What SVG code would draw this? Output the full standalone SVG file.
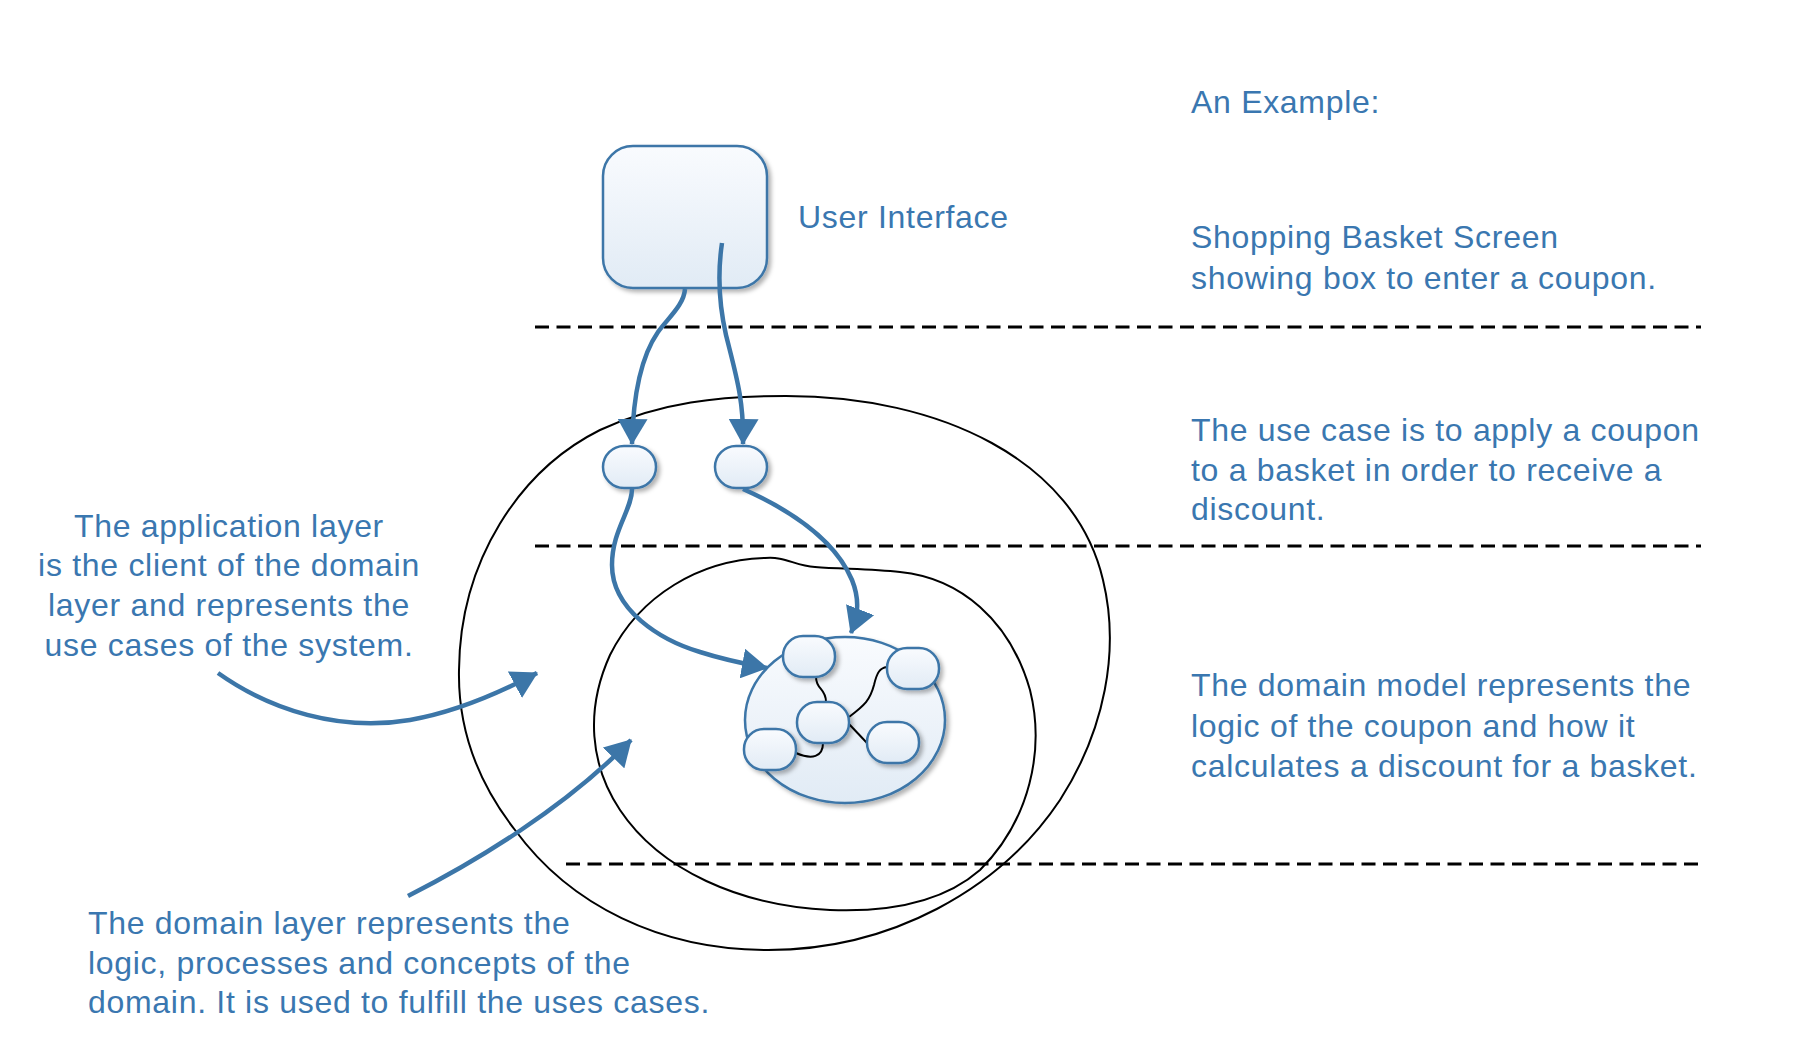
<svg xmlns="http://www.w3.org/2000/svg" width="1812" height="1046" viewBox="0 0 1812 1046">
<style>
.t{font-family:"Liberation Sans",Arial,sans-serif;font-size:32px;fill:#3a77b0;letter-spacing:0.7px}
.dash{stroke:#000;stroke-width:3;stroke-dasharray:14 7.5;fill:none}
.layer{fill:none;stroke:#000;stroke-width:2}
.node{fill:url(#g);stroke:#3c76a8;stroke-width:2.5;filter:url(#sh)}
.arrow{fill:none;stroke:#3c76a8;stroke-width:4.5;marker-end:url(#ah)}
.conn{fill:none;stroke:#000;stroke-width:2}
</style>
<defs>
<linearGradient id="g" x1="0" y1="0" x2="0" y2="1">
<stop offset="0" stop-color="#f9fbfe"/>
<stop offset="1" stop-color="#e1ebf5"/>
</linearGradient>
<filter id="sh" x="-20%" y="-20%" width="150%" height="150%">
<feDropShadow dx="3" dy="3" stdDeviation="2" flood-color="#000" flood-opacity="0.3"/>
</filter>
<marker id="ah" viewBox="0 0 26 30" refX="25" refY="15" markerWidth="26" markerHeight="30" orient="auto" markerUnits="userSpaceOnUse">
<path d="M0,0 L26,15 L0,30 Z" fill="#3c76a8"/>
</marker>
</defs>
<rect width="1812" height="1046" fill="#fff"/>

<g id="layer-lines">
<line class="dash" x1="535" y1="327" x2="1701" y2="327"/>
<line class="dash" x1="535" y1="546" x2="1701" y2="546"/>
<line class="dash" x1="566" y1="864" x2="1701" y2="864"/>
</g>

<g id="application-layer">
<path class="layer" d="M 786 396 C 940 396, 1075 460, 1103 580 C 1120 650, 1105 730, 1060 800 C 1000 890, 890 950, 768 950 C 660 950, 570 905, 515 830 C 472 775, 458 720, 459 670 C 460 560, 520 470, 600 430 C 660 402, 720 396, 786 396 Z"/>
</g>
<g id="domain-layer">
<path class="layer" d="M 765 558 C 785 556, 795 566, 815 567 C 840 569, 870 569, 900 572 C 960 578, 1010 620, 1030 690 C 1045 750, 1030 820, 980 870 C 940 905, 880 912, 830 910 C 740 906, 660 870, 620 810 C 590 765, 585 710, 610 655 C 640 595, 700 560, 765 558 Z"/>
</g>

<g id="ui">
<rect class="node" x="603" y="146" width="164" height="142" rx="30"/>
</g>
<g id="use-case-1">
<rect class="node" x="603" y="446" width="53" height="42" rx="21"/>
</g>
<g id="use-case-2">
<rect class="node" x="715" y="446" width="52" height="42" rx="21"/>
</g>
<g id="domain-model">
<ellipse class="node" cx="845" cy="720" rx="100" ry="83"/>
</g>

<g id="connectors">
<path class="arrow" d="M 685 289 C 684 305, 668 318, 658 332 C 640 358, 633 400, 632 444"/>
<path class="arrow" d="M 722 243 C 718 270, 718 300, 726 335 C 736 375, 744 400, 743 444"/>
<path class="arrow" d="M 632 489 C 632 510, 612 530, 612 565 C 612 610, 660 640, 700 652 C 725 660, 745 664, 767 668"/>
<path class="arrow" d="M 743 489 C 790 510, 835 540, 852 580 C 860 600, 858 615, 851 633"/>
<path class="arrow" d="M 218 673 C 270 710, 340 732, 410 720 C 450 713, 490 698, 537 673"/>
<path class="arrow" d="M 408 896 C 475 862, 565 808, 631 740"/>
<path class="conn" d="M 816 677 C 816 690, 826 688, 826 702"/>
<path class="conn" d="M 849 717 C 865 705, 870 700, 874 685 C 877 672, 880 668, 887 667"/>
<path class="conn" d="M 849 724 L 867 743"/>
<path class="conn" d="M 823 743 C 823 757, 812 760, 796 753"/>
</g>

<g id="domain-objects">
<rect class="node" x="783" y="636" width="52" height="41" rx="20"/>
<rect class="node" x="887" y="648" width="52" height="41" rx="20"/>
<rect class="node" x="797" y="702" width="52" height="41" rx="20"/>
<rect class="node" x="744" y="729" width="52" height="41" rx="20"/>
<rect class="node" x="867" y="722" width="52" height="41" rx="20"/>
</g>

<g id="labels">
<text class="t" x="798" y="228">User Interface</text>
<text class="t" x="1191" y="113">An Example:</text>
<text class="t" x="1191" y="248">Shopping Basket Screen</text>
<text class="t" x="1191" y="289">showing box to enter a coupon.</text>
<text class="t" x="1191" y="441">The use case is to apply a coupon</text>
<text class="t" x="1191" y="481">to a basket in order to receive a</text>
<text class="t" x="1191" y="520">discount.</text>
<text class="t" x="1191" y="696">The domain model represents the</text>
<text class="t" x="1191" y="737">logic of the coupon and how it</text>
<text class="t" x="1191" y="777">calculates a discount for a basket.</text>
<g text-anchor="middle">
<text class="t" x="229" y="537">The application layer</text>
<text class="t" x="229" y="576">is the client of the domain</text>
<text class="t" x="229" y="616">layer and represents the</text>
<text class="t" x="229" y="656">use cases of the system.</text>
</g>
<text class="t" x="88" y="934">The domain layer represents the</text>
<text class="t" x="88" y="974">logic, processes and concepts of the</text>
<text class="t" x="88" y="1013">domain. It is used to fulfill the uses cases.</text>
</g>
</svg>
